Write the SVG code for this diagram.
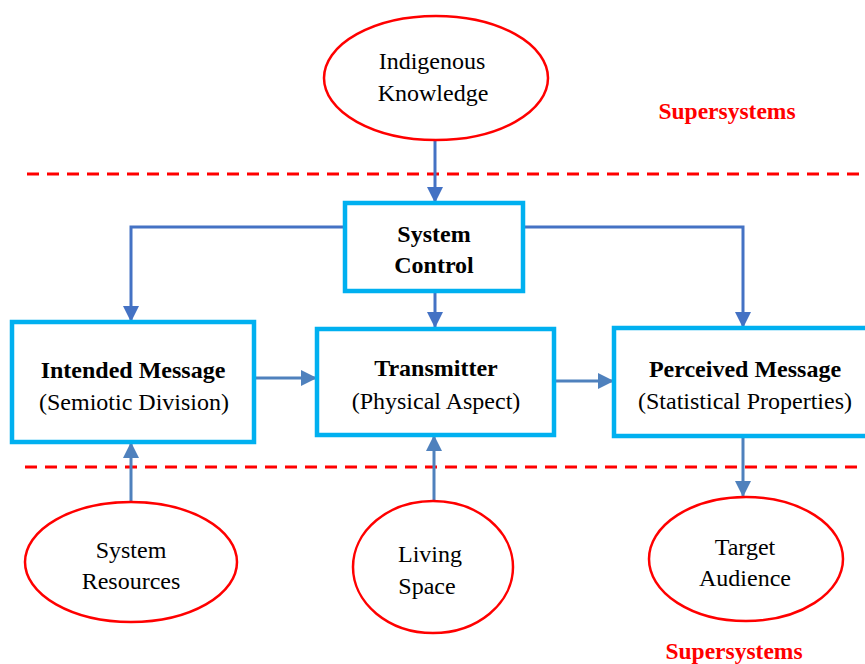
<svg xmlns="http://www.w3.org/2000/svg" width="865" height="664" viewBox="0 0 865 664">
<style>
.box{fill:#fff;stroke:#00B0F0;stroke-width:4.5}
.ell{fill:#fff;stroke:#FF0000;stroke-width:2.5}
.t{font-family:"Liberation Serif","Times New Roman",serif;font-size:24px;fill:#000;text-anchor:middle}
.b{font-weight:bold}
.red{font-family:"Liberation Serif","Times New Roman",serif;font-size:23.5px;font-weight:bold;fill:#FF0000;text-anchor:middle}
.dash{stroke:#FF0000;stroke-width:3;stroke-dasharray:12 8;fill:none}
.c1{stroke:#4472C4;stroke-width:3;fill:none;marker-end:url(#a1)}
.c2{stroke:#4F81BD;stroke-width:3;fill:none;marker-end:url(#a2)}
</style>
<defs>
<marker id="a1" markerUnits="userSpaceOnUse" markerWidth="16" markerHeight="16" refX="14" refY="7" orient="auto" viewBox="0 0 14 14"><path d="M0,0 L14,7 L0,14 Z" fill="#4472C4"/></marker>
<marker id="a2" markerUnits="userSpaceOnUse" markerWidth="16" markerHeight="16" refX="14" refY="7" orient="auto" viewBox="0 0 14 14"><path d="M0,0 L14,7 L0,14 Z" fill="#4F81BD"/></marker>
</defs>
<rect width="865" height="664" fill="#fff"/>
<g id="boundaries">
<line class="dash" x1="27" y1="174" x2="865" y2="174"/>
<line class="dash" x1="25" y1="467" x2="865" y2="467"/>
</g>
<g id="connectors">
<path class="c1" d="M435,140 V203"/>
<path class="c1" d="M345,227 H131 V322"/>
<path class="c1" d="M523,227 H743 V328"/>
<path class="c1" d="M435,291 V328"/>
<path class="c2" d="M254,378 H317"/>
<path class="c2" d="M556,381 H614"/>
<path class="c2" d="M743,436 V497"/>
<path class="c2" d="M131,502 V442"/>
<path class="c2" d="M434,500 V435"/>
</g>
<g id="indigenous-knowledge">
<ellipse class="ell" cx="436" cy="78" rx="112" ry="62"/>
<text class="t" x="432" y="69">Indigenous</text>
<text class="t" x="433" y="101">Knowledge</text>
</g>
<g id="supersystems-top"><text class="red" x="727" y="119">Supersystems</text></g>
<g id="system-control">
<rect class="box" x="345" y="203" width="178" height="88"/>
<text class="t b" x="434" y="242">System</text>
<text class="t b" x="434" y="273">Control</text>
</g>
<g id="intended-message">
<rect class="box" x="12" y="322" width="242" height="120"/>
<text class="t b" x="133" y="378">Intended Message</text>
<text class="t" x="134" y="410">(Semiotic Division)</text>
</g>
<g id="transmitter">
<rect class="box" x="317" y="329" width="237" height="106"/>
<text class="t b" x="436" y="376">Transmitter</text>
<text class="t" x="436" y="409">(Physical Aspect)</text>
</g>
<g id="perceived-message">
<rect class="box" x="614" y="328" width="256" height="108"/>
<text class="t b" x="745" y="377">Perceived Message</text>
<text class="t" x="745" y="409">(Statistical Properties)</text>
</g>
<g id="system-resources">
<ellipse class="ell" cx="131" cy="562" rx="106" ry="60"/>
<text class="t" x="131" y="558">System</text>
<text class="t" x="131" y="589">Resources</text>
</g>
<g id="living-space">
<ellipse class="ell" cx="433" cy="567" rx="80" ry="66"/>
<text class="t" x="430" y="562">Living</text>
<text class="t" x="427" y="594">Space</text>
</g>
<g id="target-audience">
<ellipse class="ell" cx="746" cy="559" rx="97" ry="62"/>
<text class="t" x="745" y="555">Target</text>
<text class="t" x="745" y="586">Audience</text>
</g>
<g id="supersystems-bottom"><text class="red" x="734" y="659">Supersystems</text></g>
</svg>
